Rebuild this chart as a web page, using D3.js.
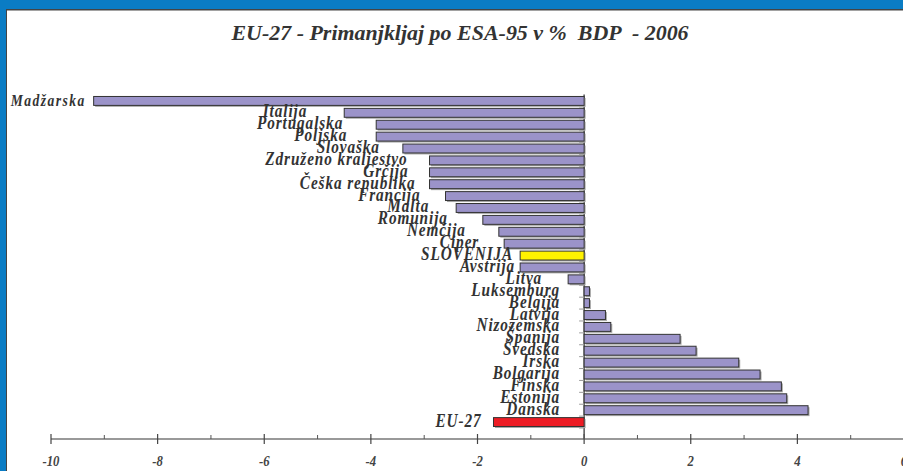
<!DOCTYPE html>
<html>
<head>
<meta charset="utf-8">
<script src="https://cdn.jsdelivr.net/npm/d3@7"></script>
<style>
  html, body { margin: 0; padding: 0; background: #0a7cc4; }
  svg { display: block; }
  text { font-family: "Liberation Serif", "Times New Roman", serif; font-weight: bold; font-style: italic; white-space: pre; }
</style>
</head>
<body>
<div id="chart"></div>
<script>
// countries, top to bottom as in the chart
const countries = [
  'Madžarska', 'Italija', 'Portugalska', 'Poljska', 'Slovaška', 'Združeno kraljestvo',
  'Grčija', 'Češka republika', 'Francija', 'Malta', 'Romunija', 'Nemčija', 'Ciper',
  'SLOVENIJA', 'Avstrija', 'Litva', 'Luksemburg', 'Belgija', 'Latvija', 'Nizozemska',
  'Španija', 'Švedska', 'Irska', 'Bolgarija', 'Finska', 'Estonija', 'Danska', 'EU-27'
];
// deficit (-) / surplus (+) in % of GDP, 2006
const balance = [
  -9.2, -4.5, -3.9, -3.9, -3.4, -2.9,
  -2.9, -2.9, -2.6, -2.4, -1.9, -1.6, -1.5,
  -1.2, -1.2, -0.3, 0.1, 0.1, 0.4, 0.5,
  1.8, 2.1, 2.9, 3.3, 3.7, 3.8, 4.2, -1.7
];
const xTicks = [-10, -8, -6, -4, -2, 0, 2, 4, 6];
const xMinor = [-9, -7, -5, -3, -1, 1, 3, 5];

// gap (px) between a label's end and the left end of its bar, as the labels were placed by hand
const labelGap = [
  8, 37, 33, 29, 23, 22,
  21, 14, 25, 27, 35, 33, 25,
  7, 5, 26, 24, 24, 24, 24,
  24, 24, 24, 24, 24, 24, 24, 12
];

const title = 'EU-27 - Primanjkljaj po ESA-95 v %  BDP  - 2006';

const W = 903, H = 471;
const data = countries.map((c, i) => ({ name: c, value: balance[i], gap: labelGap[i] }));

const svg = d3.select('#chart').append('svg')
  .attr('width', W)
  .attr('height', H);

// white panel with the dark edge
svg.append('rect').attr('x', 6).attr('y', 9).attr('width', W).attr('height', H).attr('fill', '#444');
svg.append('rect').attr('x', 7).attr('y', 10.5).attr('width', W).attr('height', H).attr('fill', '#fff');

svg.append('text')
  .attr('transform', 'translate(460,40) scale(0.9,1)')
  .attr('text-anchor', 'middle')
  .attr('font-size', 21)
  .attr('textLength', 508)
  .attr('lengthAdjust', 'spacingAndGlyphs')
  .attr('fill', '#333')
  .text(title);

const x = d3.scaleLinear().domain([-10, 6]).range([51, 904]);
const y = d3.scaleBand()
  .domain(countries)
  .range([93.5, 429.5])
  .paddingInner(0.25)
  .paddingOuter(0.25);

const barColor = d => d.name === 'SLOVENIJA' ? '#fff200' : d.name === 'EU-27' ? '#ed1c24' : '#9b93c9';

// x axis
const axisY = 439;
svg.append('line')
  .attr('x1', x(-10)).attr('x2', W)
  .attr('y1', axisY).attr('y2', axisY)
  .attr('stroke', '#777').attr('stroke-width', 1.5);

svg.selectAll('.major').data(xTicks).enter().append('line')
  .attr('x1', d => x(d)).attr('x2', d => x(d))
  .attr('y1', axisY - 5).attr('y2', axisY + 5)
  .attr('stroke', '#444').attr('stroke-width', 1.2);

svg.selectAll('.minor').data(xMinor).enter().append('line')
  .attr('x1', d => x(d)).attr('x2', d => x(d))
  .attr('y1', axisY - 4).attr('y2', axisY)
  .attr('stroke', '#555').attr('stroke-width', 1);

svg.selectAll('.xlab').data(xTicks).enter().append('text')
  .attr('transform', d => `translate(${x(d)},466) scale(0.85,1)`)
  .attr('text-anchor', 'middle')
  .attr('font-size', 15)
  .attr('fill', '#444')
  .text(d => d);

// y axis (band boundaries as ticks)
const step = y.step();
svg.append('line')
  .attr('x1', x(0)).attr('x2', x(0))
  .attr('y1', y(countries[0]) - 2).attr('y2', axisY)
  .attr('stroke', '#555').attr('stroke-width', 1.5);

svg.selectAll('.ytick').data(countries).enter().append('line')
  .attr('x1', x(0) - 5).attr('x2', x(0))
  .attr('y1', d => y(d) + y.bandwidth() + (step - y.bandwidth()) / 2)
  .attr('y2', d => y(d) + y.bandwidth() + (step - y.bandwidth()) / 2)
  .attr('stroke', '#999').attr('stroke-width', 1);

// bar shadows
svg.selectAll('.shadow').data(data).enter().append('rect')
  .attr('x', d => x(Math.min(0, d.value)) + 1.5)
  .attr('y', d => y(d.name) + 1.5)
  .attr('width', d => Math.abs(x(d.value) - x(0)))
  .attr('height', y.bandwidth())
  .attr('fill', '#aaa');

// bars
svg.selectAll('.bar').data(data).enter().append('rect')
  .attr('x', d => x(Math.min(0, d.value)))
  .attr('y', d => y(d.name))
  .attr('width', d => Math.abs(x(d.value) - x(0)))
  .attr('height', y.bandwidth())
  .attr('fill', barColor)
  .attr('stroke', '#333')
  .attr('stroke-width', 1);

// country labels, placed left of each bar
svg.selectAll('.label').data(data).enter().append('text')
  .attr('transform', d => {
    const lx = x(Math.min(0, d.value)) - d.gap;
    const ly = y(d.name) + y.bandwidth() / 2 + (d.name === 'Madžarska' ? 5 : 4.5);
    return `translate(${lx},${ly}) scale(0.85,1)`;
  })
  .attr('text-anchor', 'end')
  .attr('font-size', d => d.name === 'Madžarska' ? 16 : 18)
  .attr('letter-spacing', d => d.name === 'Madžarska' ? 1.7 : 1.05)
  .attr('fill', '#333')
  .text(d => d.name);
</script>
</body>
</html>
